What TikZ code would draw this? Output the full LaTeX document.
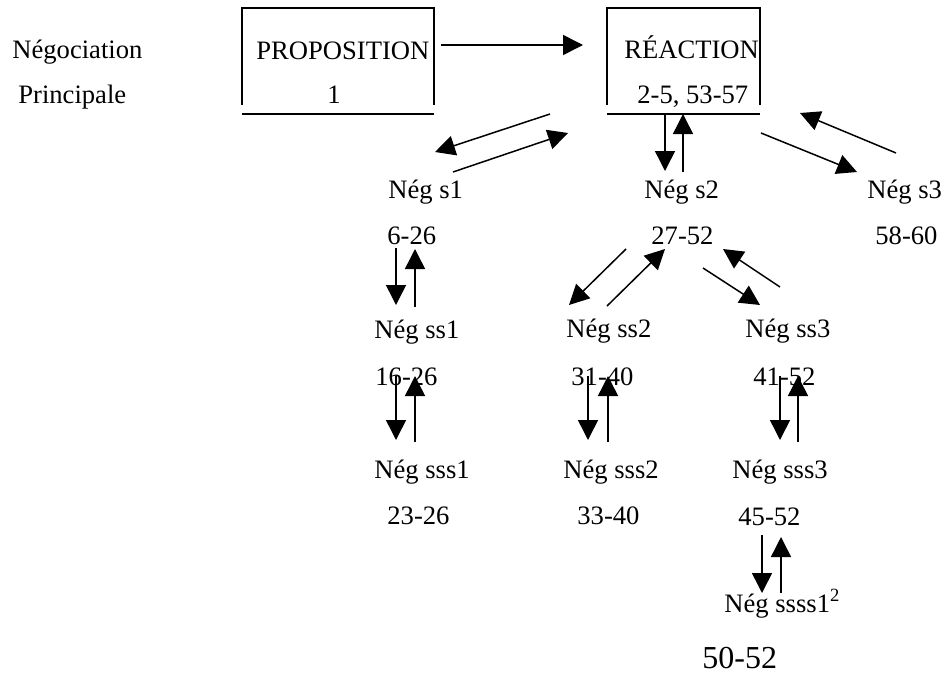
\documentclass[tikz,border=0pt]{standalone}
\usepackage{fontspec}
\setmainfont{Liberation Serif}
\usetikzlibrary{arrows.meta}
\begin{document}
\begin{tikzpicture}[x=0.5pt,y=-0.5pt,
  lbl/.style={anchor=base west,inner sep=0pt,font=\fontsize{13.3}{16}\selectfont},
  big/.style={anchor=base west,inner sep=0pt,font=\fontsize{16}{19}\selectfont},
  ln/.style={line width=0.75pt},
  arr/.style={line width=0.75pt,-{Triangle[length=10pt,width=10pt]}}]
\useasboundingbox (0,0) rectangle (946,675);

% left labels
\node[lbl] (neg) at (12,58) {Négociation};
\node[lbl] (princ) at (18,103) {Principale};

% boxes
\draw[ln] (242,105) -- (242,8) -- (434,8) -- (434,105);
\draw[ln] (242,114) -- (434,114);
\node[lbl] (prop) at (256,59) {PROPOSITION};
\node[lbl] (propn) at (327,103) {1};

\draw[ln] (607,105) -- (607,8) -- (760,8) -- (760,105);
\draw[ln] (607,114) -- (760,114);
\node[lbl] (reac) at (624,58) {RÉACTION};
\node[lbl] (reacn) at (637,103) {2-5, 53-57};

% level s
\node[lbl] (s1) at (388,198) {Nég s1};
\node[lbl] (s1n) at (387,244) {6-26};
\node[lbl] (s2) at (644,198) {Nég s2};
\node[lbl] (s2n) at (651,244) {27-52};
\node[lbl] (s3) at (867,198) {Nég s3};
\node[lbl] (s3n) at (875,244) {58-60};

% level ss
\node[lbl] (ss1) at (374,338) {Nég ss1};
\node[lbl] (ss1n) at (375,385) {16-26};
\node[lbl] (ss2) at (566,337) {Nég ss2};
\node[lbl] (ss2n) at (571,385) {31-40};
\node[lbl] (ss3) at (745,337) {Nég ss3};
\node[lbl] (ss3n) at (753,385) {41-52};

% level sss
\node[lbl] (sss1) at (374,478) {Nég sss1};
\node[lbl] (sss1n) at (387,524) {23-26};
\node[lbl] (sss2) at (563,478) {Nég sss2};
\node[lbl] (sss2n) at (577,524) {33-40};
\node[lbl] (sss3) at (732,478) {Nég sss3};
\node[lbl] (sss3n) at (738,525) {45-52};

% level ssss
\node[lbl] (ssss1) at (724,612) {Nég ssss1\textsuperscript{2}};
\node[big] (ssss1n) at (702,668) {50-52};

% connector end points
\coordinate (pA) at (441,45);   \coordinate (rA) at (583,45);
\coordinate (r1a) at (550,114); \coordinate (s1a) at (435,152);
\coordinate (s1b) at (453,172); \coordinate (r1b) at (568,133);
\coordinate (r2a) at (665,114); \coordinate (s2a) at (665,171);
\coordinate (s2b) at (683,172); \coordinate (r2b) at (683,114);
\coordinate (r3a) at (761,133); \coordinate (s3a) at (857,172);
\coordinate (s3b) at (896,153); \coordinate (r3b) at (800,113);
\coordinate (a1) at (396,248);  \coordinate (b1) at (396,305);
\coordinate (a2) at (415,307);  \coordinate (b2) at (415,249);
\coordinate (c1) at (396,376);  \coordinate (d1) at (396,440);
\coordinate (c2) at (415,442);  \coordinate (d2) at (415,376);
\coordinate (e1) at (626,249);  \coordinate (f1) at (569,305);
\coordinate (e2) at (607,306);  \coordinate (f2) at (665,249);
\coordinate (g1) at (703,268);  \coordinate (h1) at (760,305);
\coordinate (g2) at (780,287);  \coordinate (h2) at (723,249);
\coordinate (i1) at (588,376);  \coordinate (j1) at (588,440);
\coordinate (i2) at (608,442);  \coordinate (j2) at (608,376);
\coordinate (k1) at (780,376);  \coordinate (l1) at (780,440);
\coordinate (k2) at (798,442);  \coordinate (l2) at (798,376);
\coordinate (m1) at (762,535);  \coordinate (n1) at (762,593);
\coordinate (m2) at (781,593);  \coordinate (n2) at (781,537);

% connectors
\draw[arr] (pA) -- (rA);
\draw[arr] (r1a) -- (s1a);
\draw[arr] (s1b) -- (r1b);
\draw[arr] (r2a) -- (s2a);
\draw[arr] (s2b) -- (r2b);
\draw[arr] (r3a) -- (s3a);
\draw[arr] (s3b) -- (r3b);
\draw[arr] (a1) -- (b1);
\draw[arr] (a2) -- (b2);
\draw[arr] (c1) -- (d1);
\draw[arr] (c2) -- (d2);
\draw[arr] (e1) -- (f1);
\draw[arr] (e2) -- (f2);
\draw[arr] (g1) -- (h1);
\draw[arr] (g2) -- (h2);
\draw[arr] (i1) -- (j1);
\draw[arr] (i2) -- (j2);
\draw[arr] (k1) -- (l1);
\draw[arr] (k2) -- (l2);
\draw[arr] (m1) -- (n1);
\draw[arr] (m2) -- (n2);
\end{tikzpicture}
\end{document}
